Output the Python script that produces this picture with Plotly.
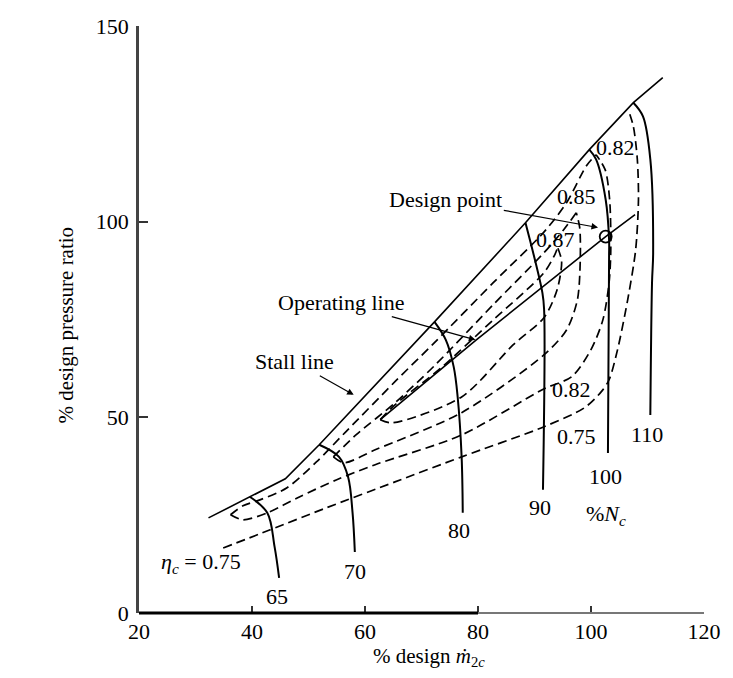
import plotly.graph_objects as go

# ---- data ----
stall_x = [32.3, 39.6, 45.9, 51.9, 72.3, 88.4, 99.7, 107.5, 112.7]
stall_y = [24.3, 29.7, 34.3, 43.0, 74.4, 99.7, 118.4, 130.4, 136.8]

op_x = [62.7, 79.7, 102.6, 107.8]
op_y = [49.4, 69.8, 96.2, 101.8]

design_x = [102.6]
design_y = [96.2]

n65_x = [39.6, 42.7, 44.0, 44.8]
n65_y = [29.7, 25.6, 16.9, 9.0]
n70_x = [51.9, 55.4, 57.0, 57.8, 58.2]
n70_y = [43.0, 39.9, 34.8, 25.6, 15.6]
n80_x = [72.3, 74.3, 75.7, 76.4, 77.1, 77.3]
n80_y = [74.4, 69.8, 62.9, 55.2, 39.9, 25.6]
n90_x = [88.4, 91.4, 91.7, 91.5]
n90_y = [99.7, 81.8, 77.5, 31.5]
n100_x = [99.7, 100.9, 102.6, 103.2, 103.2, 103.0]
n100_y = [118.4, 115.9, 105.6, 95.4, 91.0, 40.9]
n110_x = [107.5, 109.2, 110.5, 111.0, 110.8, 110.5]
n110_y = [130.4, 126.9, 115.9, 92.1, 84.4, 50.6]

# efficiency contours (dashed)
e75_x = [34.9, 43.1, 53.2, 65.3, 77.1, 91.7, 98.8, 101.8, 103.2, 104.7, 106.5, 107.9, 108.4, 108.2, 107.5, 106.6]
e75_y = [16.6, 21.2, 26.9, 33.5, 39.9, 47.6, 52.4, 56.5, 59.6, 67.3, 80.1, 92.8, 105.6, 115.9, 124.3, 128.6]

e82_up_x = [36.2, 38.4, 41.4, 46.2, 51.4, 56.6, 65.3, 72.3, 82.7, 91.7, 95.7, 99.2, 100.9]
e82_up_y = [25.1, 27.4, 28.9, 32.0, 38.6, 46.3, 59.1, 69.1, 84.4, 97.4, 104.9, 114.3, 117.1]
e82_lo_x = [36.2, 38.4, 42.7, 48.0, 54.9, 61.8, 77.1, 91.7, 96.6, 100.0, 102.1, 103.2, 103.5, 103.3, 102.5, 100.9]
e82_lo_y = [25.1, 23.8, 25.6, 29.4, 34.0, 37.9, 45.5, 57.3, 60.4, 67.3, 74.9, 84.4, 92.8, 105.6, 113.3, 117.1]

e85_up_x = [54.4, 58.4, 65.3, 72.3, 82.7, 91.7, 95.2, 97.4]
e85_up_y = [39.9, 45.5, 53.7, 63.2, 78.8, 92.1, 98.0, 102.3]
e85_lo_x = [54.4, 56.3, 61.8, 77.1, 91.7, 95.7, 97.6, 98.1, 98.0, 97.4]
e85_lo_y = [39.9, 38.4, 41.7, 51.2, 66.0, 72.4, 80.1, 90.3, 98.5, 102.3]

e87_up_x = [62.7, 65.3, 73.5, 82.7, 91.7, 93.6, 94.1]
e87_up_y = [49.4, 53.2, 62.7, 74.9, 87.0, 91.6, 93.4]
e87_lo_x = [62.7, 64.8, 77.1, 86.2, 91.7, 94.0, 94.8, 94.1]
e87_lo_y = [49.4, 48.6, 55.2, 68.5, 75.5, 82.6, 89.8, 93.4]

speed_labels = ["65", "70", "80", "90", "100", "110"]
speed_lab_x = [44.5, 58.2, 76.6, 91.0, 102.6, 109.9]
speed_lab_y = [4.1, 10.5, 21.2, 26.9, 34.8, 45.5]

eff_labels = ["0.82", "0.85", "0.87", "0.82", "0.75"]
eff_lab_x = [104.4, 97.4, 93.8, 96.6, 97.4]
eff_lab_y = [118.9, 106.4, 95.4, 57.0, 45.0]

x_ticks = [20, 40, 60, 80, 100, 120]
y_ticks = [0, 50, 100, 150]

# ---- figure ----
fig = go.Figure()
BLK = "black"

def solid(x, y, w=1.6, shape="spline"):
    fig.add_trace(go.Scatter(x=x, y=y, mode="lines", line=dict(color=BLK, width=w, shape=shape),
                             hoverinfo="skip", showlegend=False))

def dashed(x, y, w=1.7):
    fig.add_trace(go.Scatter(x=x, y=y, mode="lines",
                             line=dict(color=BLK, width=w, dash="9px,5px", shape="spline", smoothing=0.8),
                             hoverinfo="skip", showlegend=False))

dashed(e75_x, e75_y)
for ux, uy, lx, ly in [(e82_up_x, e82_up_y, e82_lo_x, e82_lo_y),
                       (e85_up_x, e85_up_y, e85_lo_x, e85_lo_y),
                       (e87_up_x, e87_up_y, e87_lo_x, e87_lo_y)]:
    dashed(ux, uy)
    dashed(lx, ly)

solid(stall_x, stall_y, 1.6, "linear")
solid(op_x, op_y, 1.6, "linear")
for sx, sy in [(n65_x, n65_y), (n70_x, n70_y), (n80_x, n80_y), (n90_x, n90_y), (n100_x, n100_y), (n110_x, n110_y)]:
    solid(sx, sy, 2.0)

fig.add_trace(go.Scatter(x=design_x, y=design_y, mode="markers",
                         marker=dict(symbol="circle-open", size=12, color=BLK, line=dict(width=1.8, color=BLK)),
                         hoverinfo="skip", showlegend=False))

SERIF = "Liberation Serif, Times New Roman, serif"
FONT = dict(family=SERIF, size=22, color=BLK)
TFONT = dict(family=SERIF, size=21, color=BLK)

for t, x, y in zip(speed_labels, speed_lab_x, speed_lab_y):
    fig.add_annotation(x=x, y=y, text=t, showarrow=False, font=FONT)
fig.add_annotation(x=102.6, y=25.1, text="%<i>N<sub>c</sub></i>", showarrow=False, font=FONT)

for t, x, y in zip(eff_labels, eff_lab_x, eff_lab_y):
    fig.add_annotation(x=x, y=y, text=t, showarrow=False, font=FONT)
fig.add_annotation(x=30.9, y=12.8, text="<i>η<sub>c</sub></i> = 0.75", showarrow=False, font=FONT)

# labelled arrows (text sits at the arrow tail)
ARW = dict(showarrow=True, arrowhead=2, arrowsize=1.1, arrowwidth=1.2, arrowcolor=BLK,
           axref="x", ayref="y", font=FONT)
fig.add_annotation(x=101.25, y=98.5, ax=74.3, ay=105.6, text="Design point", **ARW)
fig.add_annotation(x=79.55, y=69.8, ax=55.8, ay=79.3, text="Operating line", **ARW)
fig.add_annotation(x=58.0, y=55.75, ax=47.6, ay=64.2, text="Stall line", **ARW)

# axis titles
fig.add_annotation(xref="paper", yref="paper", x=(435 - 139) / 576, y=(613 - 657) / 587,
                   xanchor="center", yanchor="middle",
                   text="% design <i>ṁ</i><sub>2<i>c</i></sub>", showarrow=False, font=TFONT)
fig.add_annotation(xref="paper", yref="paper", x=(65 - 139) / 576, y=(613 - 325) / 587,
                   xanchor="center", yanchor="middle",
                   text="% design pressure ratio", textangle=-90, showarrow=False, font=TFONT)

# x axis drawn as dark left part and grey right part (as in the scan)
fig.add_shape(type="line", xref="x", yref="paper", x0=20, x1=80, y0=0, y1=0,
              line=dict(color=BLK, width=3))
fig.add_shape(type="line", xref="x", yref="paper", x0=80, x1=120, y0=0, y1=0,
              line=dict(color="#777", width=2))

fig.update_layout(
    width=733, height=678,
    margin=dict(l=139, r=18, t=26, b=65),
    paper_bgcolor="white", plot_bgcolor="white",
    xaxis=dict(range=[20, 120], tickvals=x_ticks, ticks="inside", ticklen=7,
               tickcolor="#333", tickwidth=2, showline=False, showgrid=False,
               zeroline=False, tickfont=FONT, ticklabelstandoff=3),
    yaxis=dict(range=[0, 150], tickvals=y_ticks, ticks="inside", ticklen=9,
               tickcolor="#333", tickwidth=1.5, showline=True, linecolor="#444", linewidth=2.5, showgrid=False,
               zeroline=False, tickfont=FONT, ticklabelstandoff=3),
)

fig.write_html("out.html")
